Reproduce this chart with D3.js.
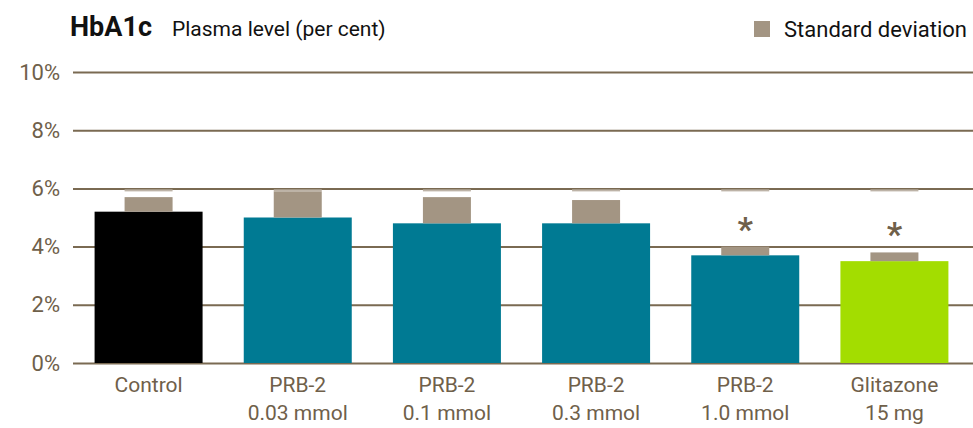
<!DOCTYPE html>
<html lang="en">
  <head>
    <meta charset="utf-8" />
    <title>HbA1c</title>
    <script src="https://d3js.org/d3.v7.min.js"></script>
    <style>
      body { margin: 0; background: #fff; }
      text { font-family: Roboto, "DejaVu Sans", sans-serif; }
    </style>
  </head>
  <body>
    <script>
      // chart data
      var groups = ["Control", "PRB-2 0.03", "PRB-2 0.1", "PRB-2 0.3", "PRB-2 1.0", "Glitazone"];
      var labelLine1 = ["Control", "PRB-2", "PRB-2", "PRB-2", "PRB-2", "Glitazone"];
      var labelLine2 = ["", "0.03 mmol", "0.1 mmol", "0.3 mmol", "1.0 mmol", "15 mg"];
      var means = [5.2, 5.0, 4.8, 4.8, 3.7, 3.5];
      var sdTop = [5.7, 6.0, 5.7, 5.6, 4.0, 3.8];
      var capLevel = [6, 6, 6, 6, 6, 6];
      var significant = [false, false, false, false, true, true];
      var barColors = ["#000000", "#007a93", "#007a93", "#007a93", "#007a93", "#a3dd00"];
      var yTicks = [0, 2, 4, 6, 8, 10];

      var width = 973;
      var height = 428;
      var brown = "#6f604a";
      var gridColor = "#7a6a52";
      var sdColor = "#a39583";

      var svg = d3.select("body")
        .append("svg")
        .attr("width", width)
        .attr("height", height);

      var x = d3.scaleBand()
        .domain(groups)
        .range([74, 969])
        .paddingInner(0.276)
        .paddingOuter(0.138);

      var y = d3.scaleLinear()
        .domain([0, 10])
        .range([363, 72]);

      // gridlines + tick labels
      var yAxis = d3.axisLeft(y)
        .tickValues(yTicks)
        .tickSize(-900)
        .tickPadding(13)
        .tickFormat(function (d) { return d + "%"; });

      var gy = svg.append("g")
        .attr("transform", "translate(73,0)")
        .call(yAxis);
      gy.select(".domain").remove();
      gy.selectAll(".tick line")
        .attr("stroke", gridColor)
        .attr("stroke-width", 2);
      gy.selectAll(".tick text")
        .attr("fill", brown)
        .style("font-size", "22px");

      // bars
      svg.append("g").selectAll("rect")
        .data(groups)
        .join("rect")
        .attr("x", function (d) { return x(d); })
        .attr("y", function (d, i) { return y(means[i]); })
        .attr("width", x.bandwidth())
        .attr("height", function (d, i) { return y(0) - y(means[i]); })
        .attr("fill", function (d, i) { return barColors[i]; });

      var sdW = 48;

      // light strip under the 6% line
      svg.append("g").selectAll("rect")
        .data(groups)
        .join("rect")
        .attr("x", function (d) { return x(d) + x.bandwidth() / 2 - sdW / 2; })
        .attr("y", function (d, i) { return y(capLevel[i]) + 1; })
        .attr("width", sdW)
        .attr("height", 2)
        .attr("fill", "#bdb3a7");

      // standard deviation boxes
      svg.append("g").selectAll("rect")
        .data(groups)
        .join("rect")
        .attr("x", function (d) { return x(d) + x.bandwidth() / 2 - sdW / 2; })
        .attr("y", function (d, i) { return y(sdTop[i]) + (sdTop[i] >= capLevel[i] ? 3 : 0); })
        .attr("width", sdW)
        .attr("height", function (d, i) {
          return y(means[i]) - y(sdTop[i]) - (sdTop[i] >= capLevel[i] ? 3 : 0);
        })
        .attr("fill", sdColor);

      // significance marks
      svg.append("g").selectAll("text")
        .data(groups.filter(function (d, i) { return significant[i]; }))
        .join("text")
        .attr("x", function (d) { return x(d) + x.bandwidth() / 2; })
        .attr("y", function (d) { var i = groups.indexOf(d); return y(sdTop[i]) - 6; })
        .attr("text-anchor", "middle")
        .attr("fill", brown)
        .style("font-size", "34px")
        .style("font-weight", "bold")
        .text("*");

      // category labels
      var lab = svg.append("g").selectAll("text")
        .data(groups)
        .join("text")
        .attr("text-anchor", "middle")
        .attr("fill", brown)
        .style("font-size", "21px");
      lab.append("tspan")
        .attr("x", function (d) { return x(d) + x.bandwidth() / 2; })
        .attr("y", 392)
        .text(function (d, i) { return labelLine1[i]; });
      lab.append("tspan")
        .attr("x", function (d) { return x(d) + x.bandwidth() / 2; })
        .attr("y", 420)
        .text(function (d, i) { return labelLine2[i]; });

      // title
      svg.append("text")
        .attr("x", 70)
        .attr("y", 36)
        .style("font-size", "27px")
        .style("font-weight", "bold")
        .attr("fill", "#111")
        .text("HbA1c");
      svg.append("text")
        .attr("x", 172)
        .attr("y", 36)
        .style("font-size", "21px")
        .attr("fill", "#111")
        .text("Plasma level (per cent)");

      // legend
      svg.append("rect")
        .attr("x", 754)
        .attr("y", 21)
        .attr("width", 16)
        .attr("height", 16)
        .attr("fill", sdColor);
      svg.append("text")
        .attr("x", 784)
        .attr("y", 37)
        .style("font-size", "22px")
        .attr("fill", "#111")
        .text("Standard deviation");
    </script>
  </body>
</html>
